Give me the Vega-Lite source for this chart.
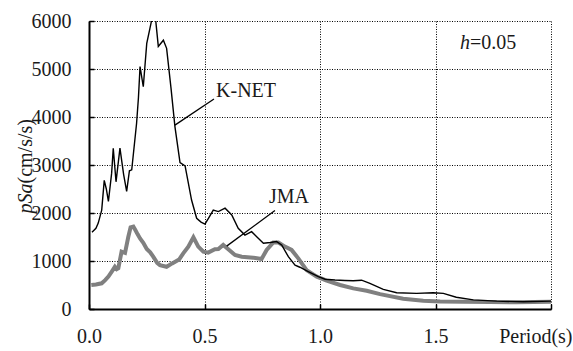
{
  "$schema": "https://vega.github.io/schema/vega-lite/v6.json",
  "width": 462,
  "height": 288,
  "autosize": {"type": "none"},
  "padding": {"left": 89, "top": 21, "right": 22, "bottom": 42},
  "background": "white",
  "datasets": {
    "knet": [
      {"x": 0.013, "y": 1600}, {"x": 0.03, "y": 1680}, {"x": 0.04, "y": 1790}, {"x": 0.055, "y": 2060},
      {"x": 0.066, "y": 2680}, {"x": 0.075, "y": 2500}, {"x": 0.084, "y": 2240}, {"x": 0.098, "y": 2830},
      {"x": 0.105, "y": 3350}, {"x": 0.117, "y": 2650}, {"x": 0.134, "y": 3350}, {"x": 0.15, "y": 2800},
      {"x": 0.163, "y": 2450}, {"x": 0.175, "y": 2880}, {"x": 0.185, "y": 2900}, {"x": 0.206, "y": 3870},
      {"x": 0.214, "y": 4400}, {"x": 0.221, "y": 5050}, {"x": 0.235, "y": 4630}, {"x": 0.25, "y": 5535},
      {"x": 0.264, "y": 5850}, {"x": 0.274, "y": 6080}, {"x": 0.287, "y": 6100}, {"x": 0.3, "y": 5470},
      {"x": 0.322, "y": 5600}, {"x": 0.336, "y": 5430}, {"x": 0.355, "y": 4600}, {"x": 0.372, "y": 3800},
      {"x": 0.394, "y": 3050}, {"x": 0.416, "y": 2980}, {"x": 0.444, "y": 2270}, {"x": 0.466, "y": 1890},
      {"x": 0.485, "y": 1810}, {"x": 0.502, "y": 1770}, {"x": 0.517, "y": 1890}, {"x": 0.538, "y": 2060},
      {"x": 0.56, "y": 2030}, {"x": 0.589, "y": 2100}, {"x": 0.618, "y": 1960}, {"x": 0.646, "y": 1680},
      {"x": 0.675, "y": 1540}, {"x": 0.704, "y": 1610}, {"x": 0.726, "y": 1506}, {"x": 0.755, "y": 1370},
      {"x": 0.784, "y": 1385}, {"x": 0.812, "y": 1405}, {"x": 0.834, "y": 1335}, {"x": 0.863, "y": 1090},
      {"x": 0.892, "y": 915}, {"x": 0.913, "y": 870}, {"x": 0.949, "y": 780}, {"x": 0.993, "y": 675},
      {"x": 1.022, "y": 620}, {"x": 1.065, "y": 605}, {"x": 1.108, "y": 595}, {"x": 1.144, "y": 590},
      {"x": 1.18, "y": 600}, {"x": 1.216, "y": 535}, {"x": 1.274, "y": 410}, {"x": 1.332, "y": 340},
      {"x": 1.418, "y": 325}, {"x": 1.49, "y": 340}, {"x": 1.534, "y": 325}, {"x": 1.59, "y": 245},
      {"x": 1.664, "y": 190}, {"x": 1.765, "y": 165}, {"x": 1.88, "y": 150}, {"x": 2.0, "y": 165}
    ],
    "jma": [
      {"x": 0.01, "y": 500}, {"x": 0.03, "y": 510}, {"x": 0.055, "y": 535}, {"x": 0.07, "y": 600},
      {"x": 0.084, "y": 675}, {"x": 0.1, "y": 790}, {"x": 0.112, "y": 880}, {"x": 0.12, "y": 830},
      {"x": 0.127, "y": 850}, {"x": 0.141, "y": 1195}, {"x": 0.156, "y": 1170}, {"x": 0.17, "y": 1500},
      {"x": 0.18, "y": 1700}, {"x": 0.192, "y": 1715}, {"x": 0.2, "y": 1650}, {"x": 0.21, "y": 1560},
      {"x": 0.221, "y": 1470}, {"x": 0.235, "y": 1380}, {"x": 0.25, "y": 1250}, {"x": 0.265, "y": 1180},
      {"x": 0.278, "y": 1090}, {"x": 0.295, "y": 960}, {"x": 0.307, "y": 915}, {"x": 0.336, "y": 880},
      {"x": 0.36, "y": 950}, {"x": 0.39, "y": 1030}, {"x": 0.408, "y": 1160}, {"x": 0.43, "y": 1300},
      {"x": 0.452, "y": 1495}, {"x": 0.473, "y": 1300}, {"x": 0.495, "y": 1195}, {"x": 0.516, "y": 1175},
      {"x": 0.545, "y": 1245}, {"x": 0.56, "y": 1250}, {"x": 0.581, "y": 1335}, {"x": 0.603, "y": 1245},
      {"x": 0.632, "y": 1125}, {"x": 0.661, "y": 1090}, {"x": 0.711, "y": 1070}, {"x": 0.747, "y": 1040},
      {"x": 0.769, "y": 1230}, {"x": 0.798, "y": 1385}, {"x": 0.82, "y": 1385}, {"x": 0.848, "y": 1300},
      {"x": 0.877, "y": 1230}, {"x": 0.906, "y": 1055}, {"x": 0.942, "y": 810}, {"x": 0.986, "y": 675},
      {"x": 1.029, "y": 590}, {"x": 1.087, "y": 500}, {"x": 1.144, "y": 430}, {"x": 1.202, "y": 380},
      {"x": 1.26, "y": 310}, {"x": 1.36, "y": 215}, {"x": 1.447, "y": 170}, {"x": 1.52, "y": 155},
      {"x": 1.62, "y": 150}, {"x": 1.736, "y": 145}, {"x": 1.85, "y": 140}, {"x": 2.0, "y": 150}
    ],
    "leaders": [
      {"x": 0.372, "y": 3830, "x2": 0.541, "y2": 4375},
      {"x": 0.596, "y": 1310, "x2": 0.805, "y2": 2050}
    ],
    "labelsLeft": [
      {"x": 0.55, "y": 4415, "label": "K-NET"},
      {"x": 1.649, "y": 5420, "label": "=0.05"}
    ],
    "labelsCenter": [
      {"x": 0.866, "y": 2208, "label": "JMA"}
    ],
    "labelsItalic": [
      {"x": 1.649, "y": 5420, "label": "h"}
    ]
  },
  "config": {
    "view": {"stroke": null},
    "font": "Times New Roman, Liberation Serif, serif",
    "axis": {
      "labelFont": "Times New Roman, Liberation Serif, serif",
      "labelFontSize": 20,
      "labelColor": "#1a1a1a",
      "titleFont": "Times New Roman, Liberation Serif, serif",
      "titleFontSize": 20,
      "titleFontWeight": "normal",
      "titleColor": "#1a1a1a",
      "domainColor": "black",
      "domainWidth": 2,
      "tickColor": "black",
      "tickWidth": 1.5,
      "tickSize": -5,
      "gridColor": "black",
      "gridDash": [1, 1.5],
      "gridWidth": 1,
      "gridOpacity": 1,
      "labelFlush": false,
      "labelOverlap": false
    }
  },
  "resolve": {"axis": {"y": "independent"}},
  "layer": [
    {
      "data": {"name": "jma"},
      "mark": {"type": "line", "color": "#808080", "strokeWidth": 4, "clip": true},
      "encoding": {
        "x": {
          "field": "x", "type": "quantitative",
          "scale": {"domain": [0, 2], "nice": false, "zero": false},
          "axis": {
            "values": [0, 0.5, 1, 1.5, 2],
            "format": ".1f",
            "labelExpr": "datum.value == 2 ? '' : datum.label",
            "labelPadding": 22,
            "title": "Period(s)",
            "titleX": 483,
            "titleY": 33,
            "titleAlign": "right",
            "titleBaseline": "alphabetic"
          }
        },
        "y": {
          "field": "y", "type": "quantitative",
          "scale": {"domain": [0, 6000], "nice": false},
          "axis": {
            "orient": "left",
            "values": [0, 1000, 2000, 3000, 4000, 5000, 6000],
            "format": "d",
            "labelPadding": 23,
            "title": "(cm/s/s)",
            "titleAngle": -90,
            "titleX": -58,
            "titleY": 162,
            "titleAlign": "left",
            "titleBaseline": "alphabetic"
          }
        }
      }
    },
    {
      "data": {"name": "knet"},
      "mark": {"type": "line", "color": "black", "strokeWidth": 1.4, "clip": true},
      "encoding": {
        "x": {"field": "x", "type": "quantitative"},
        "y": {
          "field": "y", "type": "quantitative",
          "axis": {
            "orient": "left",
            "labels": false,
            "ticks": false,
            "domain": false,
            "grid": false,
            "title": "pSa",
            "titleFontStyle": "italic",
            "titleAngle": -90,
            "titleX": -58,
            "titleY": 162,
            "titleAlign": "right",
            "titleBaseline": "alphabetic"
          }
        }
      }
    },
    {
      "data": {"name": "leaders"},
      "mark": {"type": "rule", "color": "black", "strokeWidth": 1.3},
      "encoding": {
        "x": {"field": "x", "type": "quantitative"},
        "y": {"field": "y", "type": "quantitative", "axis": null},
        "x2": {"field": "x2"},
        "y2": {"field": "y2"}
      }
    },
    {
      "data": {"name": "labelsLeft"},
      "mark": {"type": "text", "align": "left", "baseline": "alphabetic", "font": "Times New Roman, Liberation Serif, serif", "fontSize": 20, "color": "#1a1a1a"},
      "encoding": {
        "x": {"field": "x", "type": "quantitative"},
        "y": {"field": "y", "type": "quantitative", "axis": null},
        "text": {"field": "label"}
      }
    },
    {
      "data": {"name": "labelsCenter"},
      "mark": {"type": "text", "align": "center", "baseline": "alphabetic", "font": "Times New Roman, Liberation Serif, serif", "fontSize": 20, "color": "#1a1a1a"},
      "encoding": {
        "x": {"field": "x", "type": "quantitative"},
        "y": {"field": "y", "type": "quantitative", "axis": null},
        "text": {"field": "label"}
      }
    },
    {
      "data": {"name": "labelsItalic"},
      "mark": {"type": "text", "align": "right", "baseline": "alphabetic", "font": "Times New Roman, Liberation Serif, serif", "fontSize": 20, "fontStyle": "italic", "color": "#1a1a1a"},
      "encoding": {
        "x": {"field": "x", "type": "quantitative"},
        "y": {"field": "y", "type": "quantitative", "axis": null},
        "text": {"field": "label"}
      }
    }
  ]
}
